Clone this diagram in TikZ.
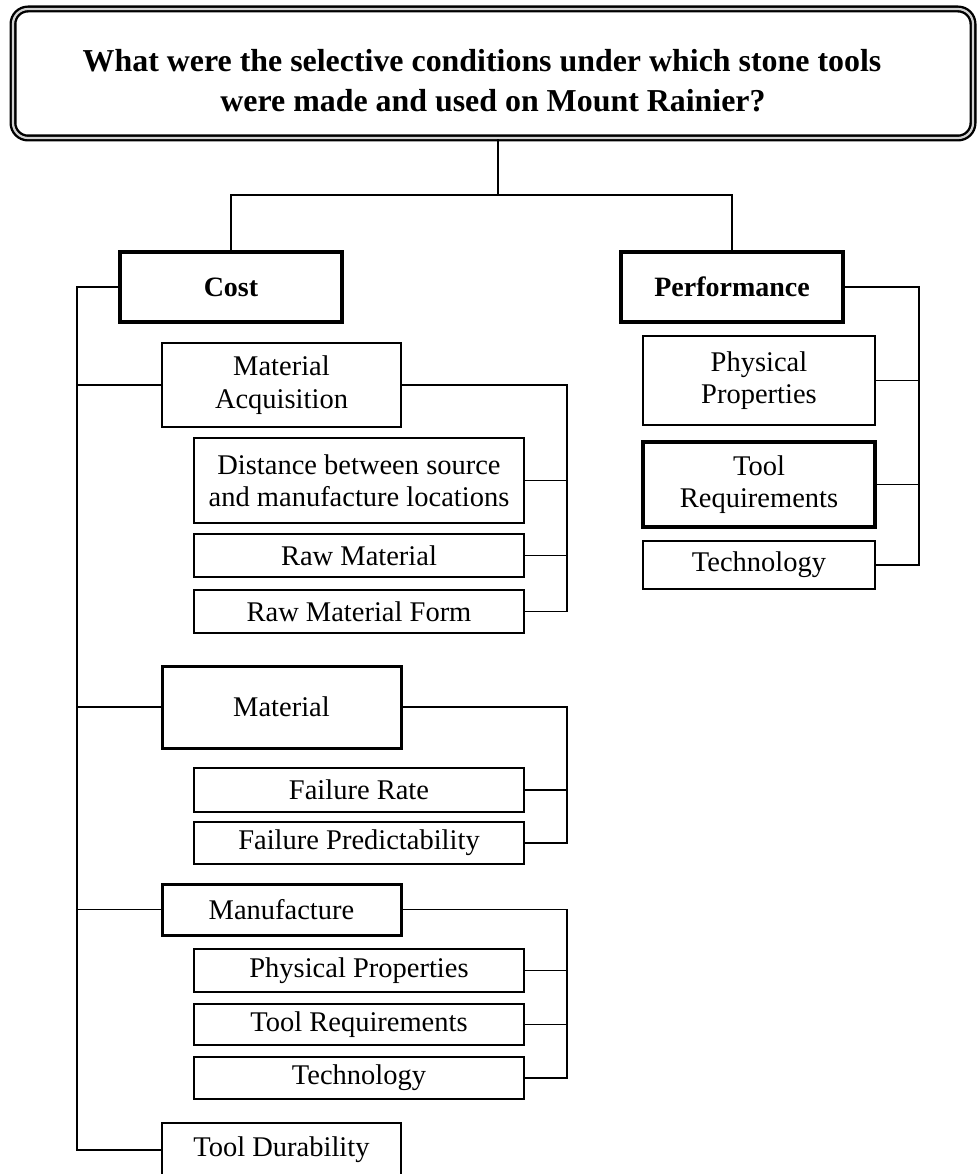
\documentclass[tikz,border=0pt]{standalone}
\usepackage{fontspec}
\setmainfont{Liberation Serif}
\begin{document}
\begin{tikzpicture}[x=1pt,y=-1pt,
  conn/.style={line width=1.9pt},
  box/.style={draw, rectangle, inner sep=0pt, align=center, line width=2pt,
    font=\fontsize{28.5}{32.5}\selectfont},
  headbox/.style={box, line width=3.5pt, font=\fontsize{28}{32}\selectfont\bfseries},
  midbox/.style={box, line width=2.6pt},
  thickbox/.style={box, line width=3pt},
  subbox/.style={box, line width=2pt, minimum width=330pt},
  titlebox/.style={draw, rectangle, rounded corners=15pt, line width=2.4pt,
    double=gray!35, double distance=2.2pt},
  titletext/.style={align=center, inner sep=0pt, font=\fontsize{31.9}{40}\selectfont\bfseries}
]
\useasboundingbox (0,0) rectangle (977,1174);

% title
\node[titlebox, minimum width=960pt, minimum height=129pt] (top) at (493,73.5) {};
\node[titletext] (title) at (482,81) {What were the selective conditions under which stone tools\\\hspace*{22pt}were made and used on Mount Rainier?};

% level 1
\node[headbox, minimum width=222pt, minimum height=70pt] (cost) at (231,287) {Cost};
\node[headbox, minimum width=222pt, minimum height=70pt] (perf) at (732,287) {Performance};

% cost children
\node[midbox, minimum width=239pt, minimum height=84pt] (matacq) at (281.5,385) {Material\\Acquisition};
\node[subbox, minimum height=85pt] (dist) at (359,480.5) {Distance between source\\and manufacture locations};
\node[subbox, minimum height=43pt] (raw) at (359,555.5) {Raw Material};
\node[subbox, minimum height=43pt] (rawform) at (359,611.5) {Raw Material Form};

\node[thickbox, minimum width=239pt, minimum height=82pt] (material) at (281.5,707) {Material};
\node[subbox, minimum height=44pt] (frate) at (359,790) {Failure Rate};
\node[subbox, minimum height=42pt] (fpred) at (359,843) {Failure Predictability};

\node[thickbox, minimum width=239pt, minimum height=51pt] (manuf) at (281.5,909.5) {Manufacture};
\node[subbox, minimum height=43pt] (mphys) at (359,970.5) {Physical Properties};
\node[subbox, minimum height=41pt] (mtool) at (359,1024.5) {Tool Requirements};
\node[subbox, minimum height=42pt] (mtech) at (359,1078) {Technology};

\node[midbox, minimum width=239pt, minimum height=54pt] (dur) at (281.5,1150) {Tool Durability};

% performance children
\node[midbox, minimum width=232pt, minimum height=89pt] (pphys) at (759,380.5) {Physical\\Properties};
\node[box, line width=3.5pt, minimum width=232pt, minimum height=85pt] (ptool) at (759,484.5) {Tool\\Requirements};
\node[midbox, minimum width=232pt, minimum height=48pt] (ptech) at (759,565) {Technology};

% connectors
\coordinate (j) at (498,195);
\coordinate (bus) at (77,0);
\coordinate (rb) at (567,0);
\coordinate (pb) at (919,0);

\draw[conn] (top.south -| j) -- (j);
\draw[conn] (cost.north) |- (j) -| (perf.north);

\draw[conn] (cost.west) -- (cost.west -| bus) -- (dur.west -| bus) -- (dur.west);
\draw[conn] (matacq.west) -- (matacq.west -| bus);
\draw[conn] (material.west) -- (material.west -| bus);
\draw[conn] (manuf.west) -- (manuf.west -| bus);

\draw[conn] (matacq.east) -- (matacq.east -| rb) -- (rawform.east -| rb) -- (rawform.east);
\draw[conn] (dist.east) -- (dist.east -| rb);
\draw[conn] (raw.east) -- (raw.east -| rb);

\draw[conn] (material.east) -- (material.east -| rb) -- (fpred.east -| rb) -- (fpred.east);
\draw[conn] (frate.east) -- (frate.east -| rb);

\draw[conn] (manuf.east) -- (manuf.east -| rb) -- (mtech.east -| rb) -- (mtech.east);
\draw[conn] (mphys.east) -- (mphys.east -| rb);
\draw[conn] (mtool.east) -- (mtool.east -| rb);

\draw[conn] (perf.east) -- (perf.east -| pb) -- (ptech.east -| pb) -- (ptech.east);
\draw[conn] (pphys.east) -- (pphys.east -| pb);
\draw[conn] (ptool.east) -- (ptool.east -| pb);
\end{tikzpicture}
\end{document}
